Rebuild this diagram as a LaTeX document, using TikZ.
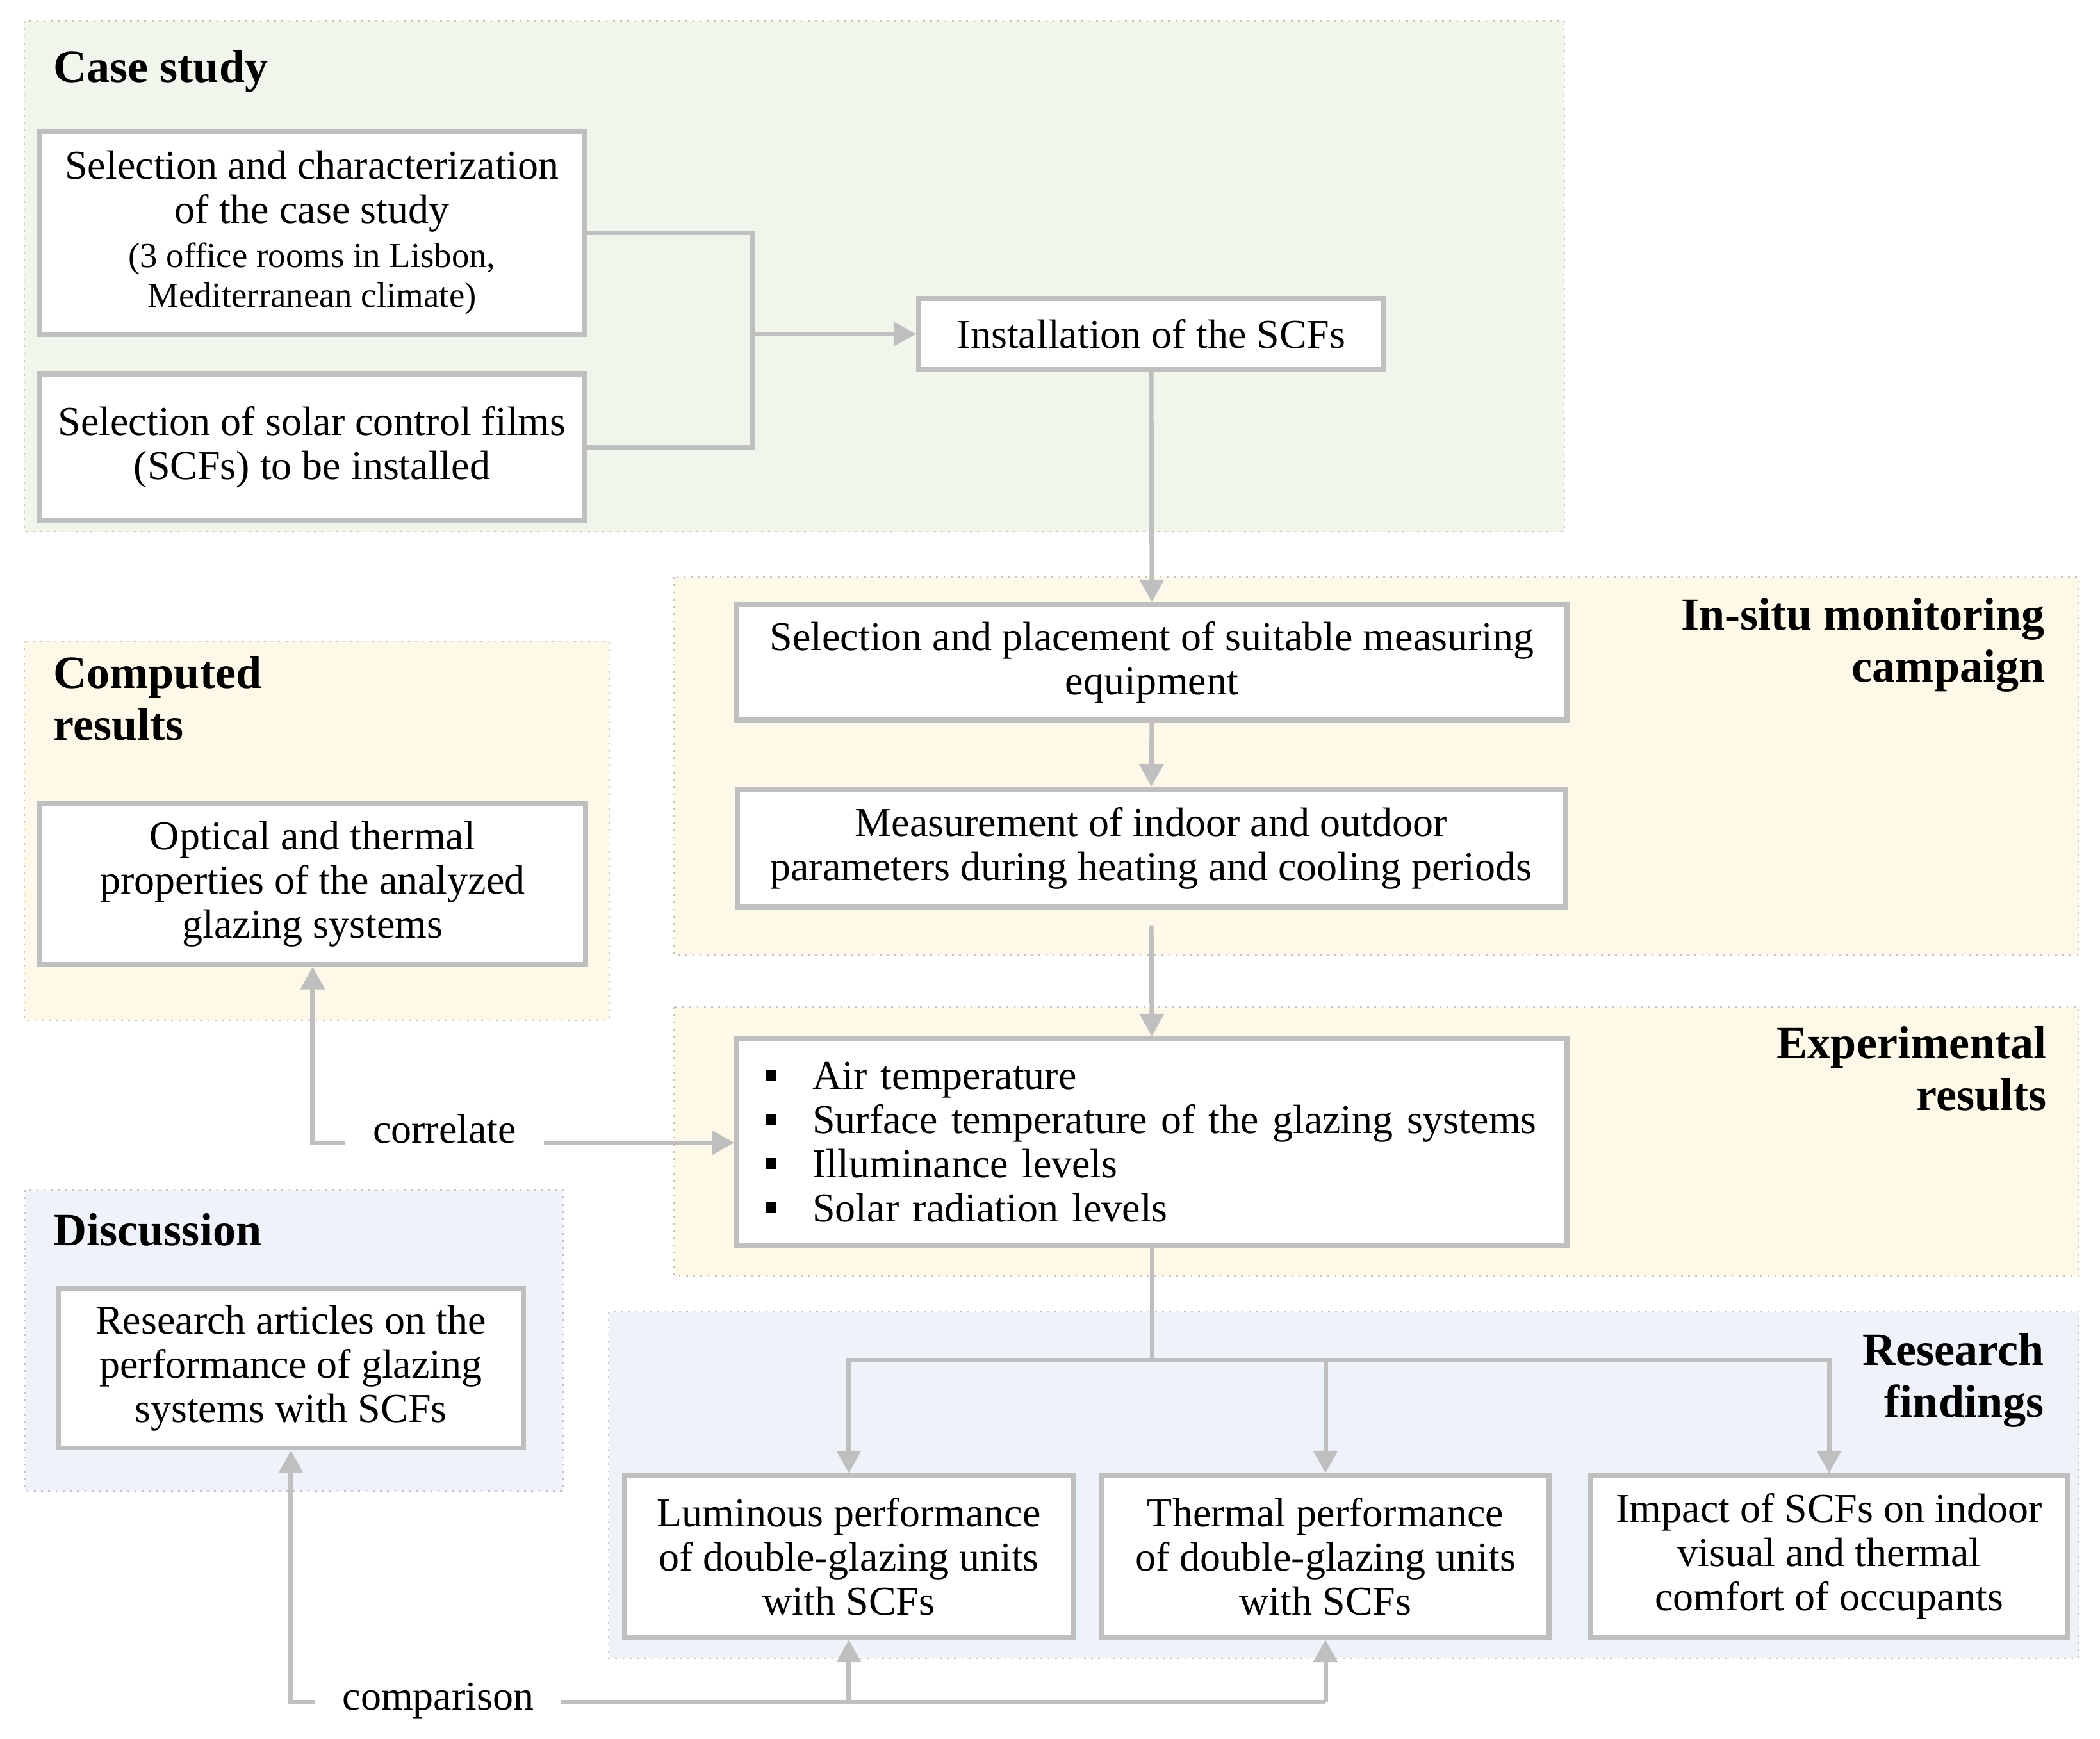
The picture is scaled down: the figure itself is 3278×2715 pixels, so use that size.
\documentclass[tikz,border=0pt]{standalone}
\usepackage{fontspec}
\setmainfont{Liberation Serif}
\usetikzlibrary{arrows.meta, positioning, calc}
\definecolor{csgreen}{HTML}{F1F6EC}
\definecolor{resyellow}{HTML}{FDF8E7}
\definecolor{discblue}{HTML}{EEF2F9}
\definecolor{dotgray}{HTML}{C4C4C4}
\definecolor{boxgray}{HTML}{BFBFBF}
\newcommand{\txtfont}{\fontsize{18.2pt}{19.6pt}\selectfont}
\newcommand{\smallfont}{\fontsize{15.6pt}{17.4pt}\selectfont}
\newcommand{\hdfont}{\fontsize{20.5pt}{22.8pt}\selectfont\bfseries}
\newcommand{\bul}{\makebox[20.8pt][l]{\rule[3.9pt]{4.8pt}{4.8pt}}}

\begin{document}
\begin{tikzpicture}[
            x=0.01cm, y=-0.01cm,
            >={Triangle[length=10pt,width=10.5pt]},
            region/.style ={draw=dotgray, line width=0.8pt, dash pattern=on 0.8pt off 2.4pt},
            box/.style    ={draw=boxgray, line width=2.2pt, fill=white, align=center,
                            inner sep=0pt, font=\txtfont},
            ttl/.style    ={font=\hdfont, inner sep=0pt},
            link/.style   ={draw=boxgray, line width=2pt},
            flow/.style   ={link, ->},
            lbl/.style    ={font=\txtfont, inner sep=0pt, inner xsep=12pt}
        ]
        \useasboundingbox (0,0) rectangle (3278,2715);

        % coloured stage backgrounds
        \draw[region, fill=csgreen]   (38,33)     rectangle (2442,830);
        \draw[region, fill=resyellow] (38,1001)   rectangle (951,1593);
        \draw[region, fill=resyellow] (1052,901)  rectangle (3245,1491);
        \draw[region, fill=resyellow] (1052,1572) rectangle (3245,1992);
        \draw[region, fill=discblue]  (39,1858)   rectangle (879,2328);
        \draw[region, fill=discblue]  (950,2048)  rectangle (3245,2589);

        % stage titles (base = baseline of the last line)
        \node[ttl, anchor=base west] (cstitle) at (83,129) {Case study};
        \node[ttl, anchor=base west, align=left] (comptitle) at (83,1155) {Computed\\results};
        \node[ttl, anchor=base west] (disctitle) at (83,1944) {Discussion};
        \node[ttl, anchor=base east, align=right] (insitutitle) at (3192,1064)
              {In-situ monitoring\\campaign};
        \node[ttl, anchor=base east, align=right] (exptitle) at (3195,1733)
              {Experimental\\results};
        \node[ttl, anchor=base east, align=right] (restitle) at (3191,2212)
              {Research\\findings};

        % case study
        \node[box, minimum width=85mm, minimum height=31.7mm] (sel) at (487,363.5)
              {Selection and characterization\\of the case study\\
               \smallfont (3 office rooms in Lisbon,\\[-2pt] \smallfont Mediterranean climate)};
        \node[box, minimum width=85mm, minimum height=22.9mm] (scf) at (487,698.5)
              {Selection of solar control films\\(SCFs) to be installed};
        \node[box, minimum width=72.6mm, minimum height=11.1mm] (inst) at (1797,521.5)
              {Installation of the SCFs};

        % monitoring and results
        \node[box, minimum width=129.5mm, minimum height=18mm] (place) at (1798,1034)
              {Selection and placement of suitable measuring\\equipment};
        \node[box, minimum width=129.2mm, minimum height=18.4mm] (meas) at (1797,1324)
              {Measurement of indoor and outdoor\\parameters during heating and cooling periods};
        \node[box, minimum width=129.5mm, minimum height=32.2mm, text width=120.5mm,
              align=left] (exp) at (1798,1783)
              {\bul Air temperature\\\bul Surface temperature of the glazing systems\\
               \bul Illuminance levels\\\bul Solar radiation levels};
        \node[box, minimum width=85.1mm, minimum height=25.1mm] (comp) at (488,1380)
              {Optical and thermal\\properties of the analyzed\\glazing systems};

        % discussion and findings
        \node[box, minimum width=72.5mm, minimum height=24.9mm] (disc) at (454,2136)
              {Research articles on the\\performance of glazing\\systems with SCFs};
        \node[box, minimum width=69.9mm, minimum height=25.2mm] (lum) at (1325,2430)
              {Luminous performance\\of double-glazing units\\with SCFs};
        \node[box, minimum width=69.8mm, minimum height=25.2mm] (therm) at (2069,2430)
              {Thermal performance\\of double-glazing units\\with SCFs};
        \node[box, minimum width=74.4mm, minimum height=25.2mm] (imp) at (2855,2430)
              {Impact of SCFs on indoor\\visual and thermal\\comfort of occupants};

        \node[lbl, anchor=base] (corr) at (694,1784) {correlate};
        \node[lbl, anchor=base] (cmp) at (684,2669) {comparison};

        \coordinate (join) at (1175,521.5);
        \coordinate (split) at (1798,2123);
        \coordinate (cmpline) at (684,2657);

        \draw[link] (sel.east) -| (join) |- (scf.east);
        \draw[flow] (join) -- (inst.west);
        \draw[flow] (inst.south) -- (place.north);
        \draw[flow] (place.south) -- (meas.north);
        \draw[flow, shorten <=7pt] (meas.south) -- (exp.north);
        \draw[link] (exp.south) -- (split);
        \draw[flow] (split) -| (lum.north);
        \draw[flow] (split) -| (imp.north);
        \draw[flow] (therm.north |- split) -- (therm.north);

        \draw[flow] (corr.base west) -| (comp.south);
        \draw[flow] (corr.base east) -- (corr.base east -| exp.west);

        \draw[flow] (cmp.west |- cmpline) -| (disc.south);
        \draw[link] (cmp.east |- cmpline) -- (cmpline -| therm.south);
        \draw[flow] (cmpline -| lum.south) -- (lum.south);
        \draw[flow] (cmpline -| therm.south) -- (therm.south);

\end{tikzpicture}
\end{document}
